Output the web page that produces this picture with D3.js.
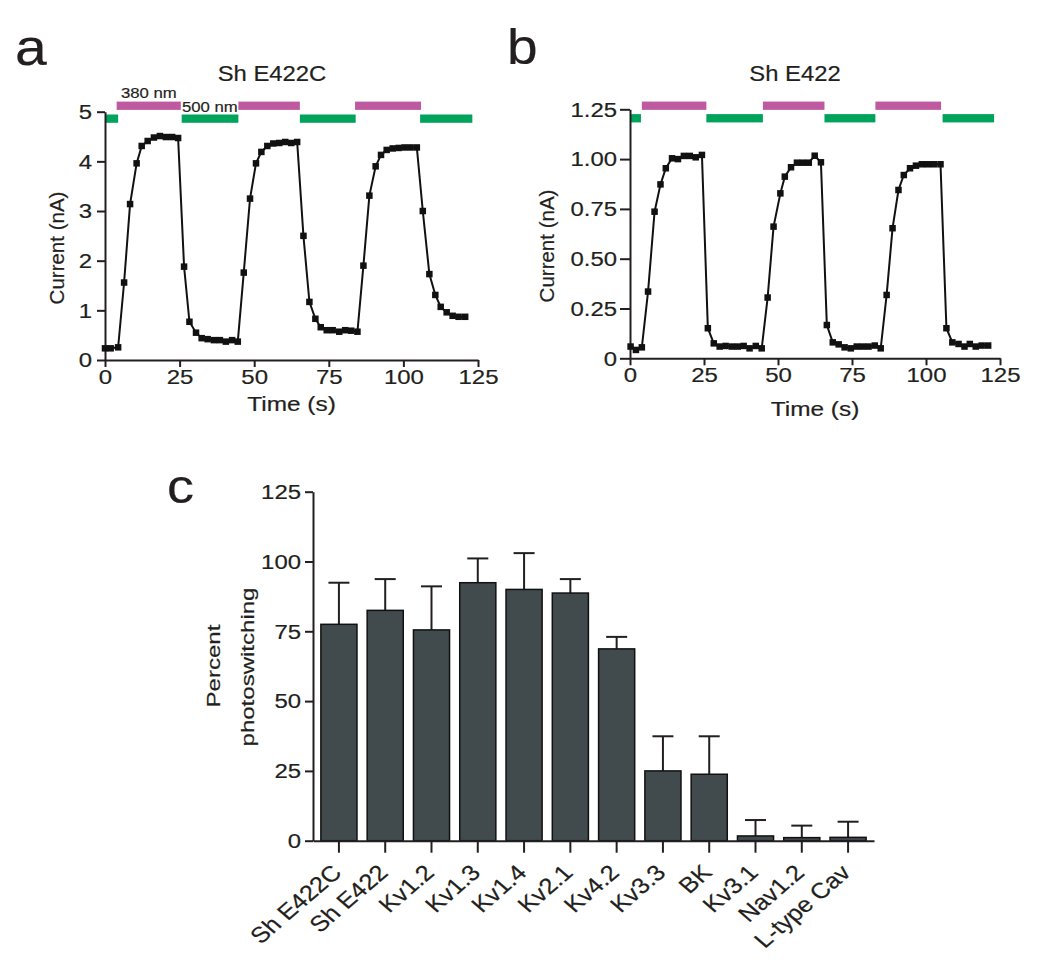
<!DOCTYPE html>
<html>
<head>
<meta charset="utf-8">
<script src="https://cdn.jsdelivr.net/npm/d3@7"></script>
<style>
  html, body { margin: 0; padding: 0; background: #fff; }
  svg { display: block; }
  text { font-family: "Liberation Sans", Arial, Helvetica, sans-serif; fill: #231f20; stroke: #231f20; stroke-width: 0.2px; }
</style>
</head>
<body>
<svg id="chart" width="1050" height="978"></svg>
<script>
// ---------------- DATA ----------------
// Panel a: Sh E422C
const timeA = [0,1.9,4.4, 6.4,8.4,10.6,12.3,14.3,16.4,18.4,20.4,22.5,24.5,
  26.5,28.3,30.5,32.4,34.4,36.5,38.5,40.5,42.6,44.5,
  46.5,48.6,50.6,52.4,54.4,56.4,58.4,60.4,62.4,64.4,
  66.5,68.5,70.5,72.3,74.3,76.3,78.5,80.5,82.5,84.6,
  86.6,88.6,90.7,92.5,94.4,96.4,98.4,100.4,102.4,104.5,
  106.5,108.7,110.7,112.5,114.5,116.5,118.5,120.7];
const currentA = [0.235,0.235,0.255, 1.56,3.14,3.96,4.31,4.41,4.48,4.51,4.49,4.49,4.47,
  1.88,0.77,0.55,0.44,0.42,0.40,0.40,0.37,0.40,0.37,
  1.76,3.25,3.96,4.19,4.31,4.36,4.37,4.39,4.37,4.39,
  2.50,1.17,0.83,0.66,0.60,0.60,0.57,0.60,0.59,0.57,
  1.90,3.31,3.90,4.13,4.23,4.26,4.27,4.28,4.28,4.28,
  3.00,1.73,1.31,1.07,0.96,0.89,0.87,0.87];
const uvA  = [[3.9,25.4],[44.7,65.3],[83.8,105.9]];          // 380 nm periods
const visA = [[0,4.4],[25.7,44.7],[65.3,84.0],[105.6,123.1]]; // 500 nm periods
const uvLevelA = 5.12, visLevelA = 4.86;
const yTicksA = [0,1,2,3,4,5];
const xTicks = [0,25,50,75,100,125];

// Panel b: Sh E422
const timeB = [0.2,2.0,4.0, 6.1,8.3,10.3,12.1,14.2,16.2,18.2,20.2,22.2,24.3,
  26.3,28.3,30.3,32.3,34.4,36.4,38.4,40.4,42.5,44.5,
  46.5,48.5,50.8,52.3,54.4,56.4,58.4,60.4,62.4,64.5,
  66.5,68.5,70.5,72.5,74.6,76.6,78.6,80.6,82.7,84.7,
  86.7,88.7,90.7,92.5,94.6,96.6,98.6,100.6,102.7,104.9,
  106.9,108.9,111,113,114.8,116.8,118.8,121];
const currentB = [0.059,0.042,0.055, 0.335,0.736,0.873,0.954,1.004,1.0,1.016,1.016,1.009,1.021,
  0.151,0.075,0.059,0.062,0.059,0.059,0.062,0.05,0.062,0.05,
  0.305,0.661,0.828,0.912,0.959,0.982,0.982,0.982,1.017,0.984,
  0.167,0.080,0.070,0.055,0.05,0.059,0.059,0.059,0.064,0.05,
  0.318,0.653,0.845,0.92,0.954,0.967,0.974,0.974,0.974,0.974,
  0.151,0.080,0.072,0.059,0.072,0.059,0.064,0.064];
const uvB  = [[4.0,25.8],[44.9,65.7],[82.9,105.1]];
const visB = [[0,3.7],[25.8,44.9],[65.7,82.9],[105.6,123]];
const uvLevelB = 1.268, visLevelB = 1.205;
const yTicksB = [0,0.25,0.5,0.75,1.0,1.25];
const yTickLabelsB = ["0","0.25","0.50","0.75","1.00","1.25"];

// Panel c
const channels = ["Sh E422C","Sh E422","Kv1.2","Kv1.3","Kv1.4","Kv2.1","Kv4.2","Kv3.3","BK","Kv3.1","Nav1.2","L-type Cav"];
const percentMean = [77.5,82.5,75.5,92.4,90.0,88.7,68.7,25.0,23.8,1.7,1.1,1.2];
const percentErr  = [14.9,11.2,15.6,8.7,13.0,5.0,4.3,12.4,13.6,5.7,4.3,5.6];
const yTicksC = [0,25,50,75,100,125];

// ---------------- STYLE ----------------
const INK = "#231f20", MAG = "#bf5aa0", GRN = "#00a35c", BAR = "#414a4d";
const svg = d3.select("#chart");

function stext(g, x, y, s, o) {
  let tr = `translate(${x},${y})`;
  if (o.rot) tr += ` rotate(${o.rot})`;
  tr += ` scale(${o.sx || 1},1)`;
  return g.append("text").attr("transform", tr)
    .attr("text-anchor", o.anchor || "start")
    .attr("font-size", o.size).text(s);
}

function styleAxis(g) {
  g.select(".domain").attr("stroke", INK).attr("stroke-width", 2);
  g.selectAll(".tick line").attr("stroke", INK).attr("stroke-width", 2);
  g.selectAll(".tick text").attr("fill", INK)
    .attr("font-family", '"Liberation Sans", Arial, sans-serif');
}

const YT_FS = 21, YT_SX = 1.14, XT_FS = 20, XT_SX = 1.2;

function leftAxis(g, y, x0, ticks, labels, ts, pad) {
  const ax = d3.axisLeft(y).tickValues(ticks).tickSize(ts).tickSizeOuter(0)
    .tickFormat((d, i) => labels ? labels[i] : d3.format("d")(d));
  const a = g.append("g").attr("transform", `translate(${x0},0)`).call(ax);
  styleAxis(a);
  a.selectAll(".tick text").attr("x", null).attr("font-size", YT_FS)
    .attr("transform", `translate(${-(ts + pad)},0) scale(${YT_SX},1)`);
  return a;
}
function bottomAxis(g, x, y0, ticks, ts, pad) {
  const ax = d3.axisBottom(x).tickValues(ticks).tickSize(ts).tickSizeOuter(0).tickPadding(pad)
    .tickFormat(d3.format("d"));
  const a = g.append("g").attr("transform", `translate(0,${y0})`).call(ax);
  styleAxis(a);
  a.selectAll(".tick text").attr("font-size", XT_FS)
    .attr("transform", `scale(${XT_SX},1)`);
  return a;
}

function tracePanel(o) {
  const g = svg.append("g");
  const x = d3.scaleLinear().domain([0, 125]).range(o.xr);
  const y = d3.scaleLinear().domain(o.yd).range(o.yr);
  // light bars
  const barH = 8.3;
  g.selectAll(".vis").data(o.vis).join("rect")
    .attr("x", d => x(d[0])).attr("width", d => x(d[1]) - x(d[0]))
    .attr("y", y(o.visLevel) - barH / 2).attr("height", barH).attr("fill", GRN);
  g.selectAll(".uv").data(o.uv).join("rect")
    .attr("x", d => x(d[0])).attr("width", d => x(d[1]) - x(d[0]))
    .attr("y", y(o.uvLevel) - barH / 2).attr("height", barH).attr("fill", MAG);
  // axes
  leftAxis(g, y, o.xr[0], o.yTicks, o.yLabels, o.yts, o.ypad);
  bottomAxis(g, x, o.yr[0], xTicks, 7, 3);
  // trace
  const pts = o.t.map((t, i) => [t, o.v[i]]);
  g.append("path").datum(pts)
    .attr("d", d3.line().x(d => x(d[0])).y(d => y(d[1])))
    .attr("fill", "none").attr("stroke", "#111").attr("stroke-width", 2);
  const m = 6.5;
  g.selectAll(".pt").data(pts).join("rect")
    .attr("x", d => x(d[0]) - m / 2).attr("y", d => y(d[1]) - m / 2)
    .attr("width", m).attr("height", m).attr("fill", "#111");
  // labels
  stext(g, o.titleX, 81, o.title, {size: 22.5, sx: 1.06, anchor: "middle"});
  stext(g, (o.xr[0] + o.xr[1]) / 2, o.timeY, "Time (s)", {size: 20, sx: 1.22, anchor: "middle"});
  stext(g, o.curX, o.curY, "Current (nA)", {size: 20.5, rot: -90, anchor: "middle"});
  return {g, x, y};
}

// Panel a
const A = tracePanel({
  xr: [105, 478], yd: [0, 5], yr: [360, 111.7],
  t: timeA, v: currentA, uv: uvA, vis: visA, uvLevel: uvLevelA, visLevel: visLevelA,
  yTicks: yTicksA, yLabels: null, yts: 8, ypad: 5,
  title: "Sh E422C", titleX: 272, timeY: 411, curX: 64, curY: 248
});
stext(A.g, 121, 98, "380 nm", {size: 15.5, sx: 1.08});
stext(A.g, 182, 112, "500 nm", {size: 15.5, sx: 1.08});

// Panel b
tracePanel({
  xr: [630, 1000], yd: [0, 1.25], yr: [358.3, 109.3],
  t: timeB, v: currentB, uv: uvB, vis: visB, uvLevel: uvLevelB, visLevel: visLevelB,
  yTicks: yTicksB, yLabels: yTickLabelsB, yts: 10, ypad: 3,
  title: "Sh E422", titleX: 795, timeY: 416, curX: 554, curY: 246
});

// Panel letters
stext(svg, 15, 65, "a", {size: 51, sx: 1.12});
stext(svg, 507, 64, "b", {size: 50, sx: 1.1});
stext(svg, 167, 503, "c", {size: 49, sx: 1.1});

// Panel c
(function() {
  const g = svg.append("g");
  const x = d3.scaleBand().domain(channels).range([313, 874]).paddingInner(0.22).paddingOuter(0.17);
  const y = d3.scaleLinear().domain([0, 125]).range([840.7, 491.7]);
  const data = channels.map((c, i) => ({c, m: percentMean[i], e: percentErr[i]}));
  // error bars (upper only)
  const capW = 21;
  g.selectAll(".err").data(data).join("line")
    .attr("x1", d => x(d.c) + x.bandwidth() / 2).attr("x2", d => x(d.c) + x.bandwidth() / 2)
    .attr("y1", d => y(d.m)).attr("y2", d => y(d.m + d.e))
    .attr("stroke", INK).attr("stroke-width", 2);
  g.selectAll(".cap").data(data).join("line")
    .attr("x1", d => x(d.c) + x.bandwidth() / 2 - capW / 2).attr("x2", d => x(d.c) + x.bandwidth() / 2 + capW / 2)
    .attr("y1", d => y(d.m + d.e)).attr("y2", d => y(d.m + d.e))
    .attr("stroke", INK).attr("stroke-width", 2);
  g.selectAll(".bar").data(data).join("rect")
    .attr("x", d => x(d.c)).attr("width", x.bandwidth())
    .attr("y", d => y(d.m)).attr("height", d => y(0) - y(d.m))
    .attr("fill", BAR).attr("stroke", "#111").attr("stroke-width", 1.5);
  leftAxis(g, y, 313, yTicksC, null, 8, 4);
  const ax = d3.axisBottom(x).tickSize(12).tickSizeOuter(0).tickFormat("");
  const a = g.append("g").attr("transform", "translate(0,840.7)").call(ax);
  styleAxis(a);
  a.selectAll(".tick text").remove();
  // rotated category labels
  channels.forEach(c => {
    const cx = x(c) + x.bandwidth() / 2;
    g.append("text")
      .attr("transform", `translate(${cx + 4},${874}) scale(1.16,1) rotate(-45)`)
      .attr("text-anchor", "end").attr("font-size", 22).text(c);
  });
  stext(g, 220, 666, "Percent", {size: 18.5, rot: -90, sx: 1.3, anchor: "middle"});
  stext(g, 254, 667, "photoswitching", {size: 18.5, rot: -90, sx: 1.3, anchor: "middle"});
})();
</script>
</body>
</html>
